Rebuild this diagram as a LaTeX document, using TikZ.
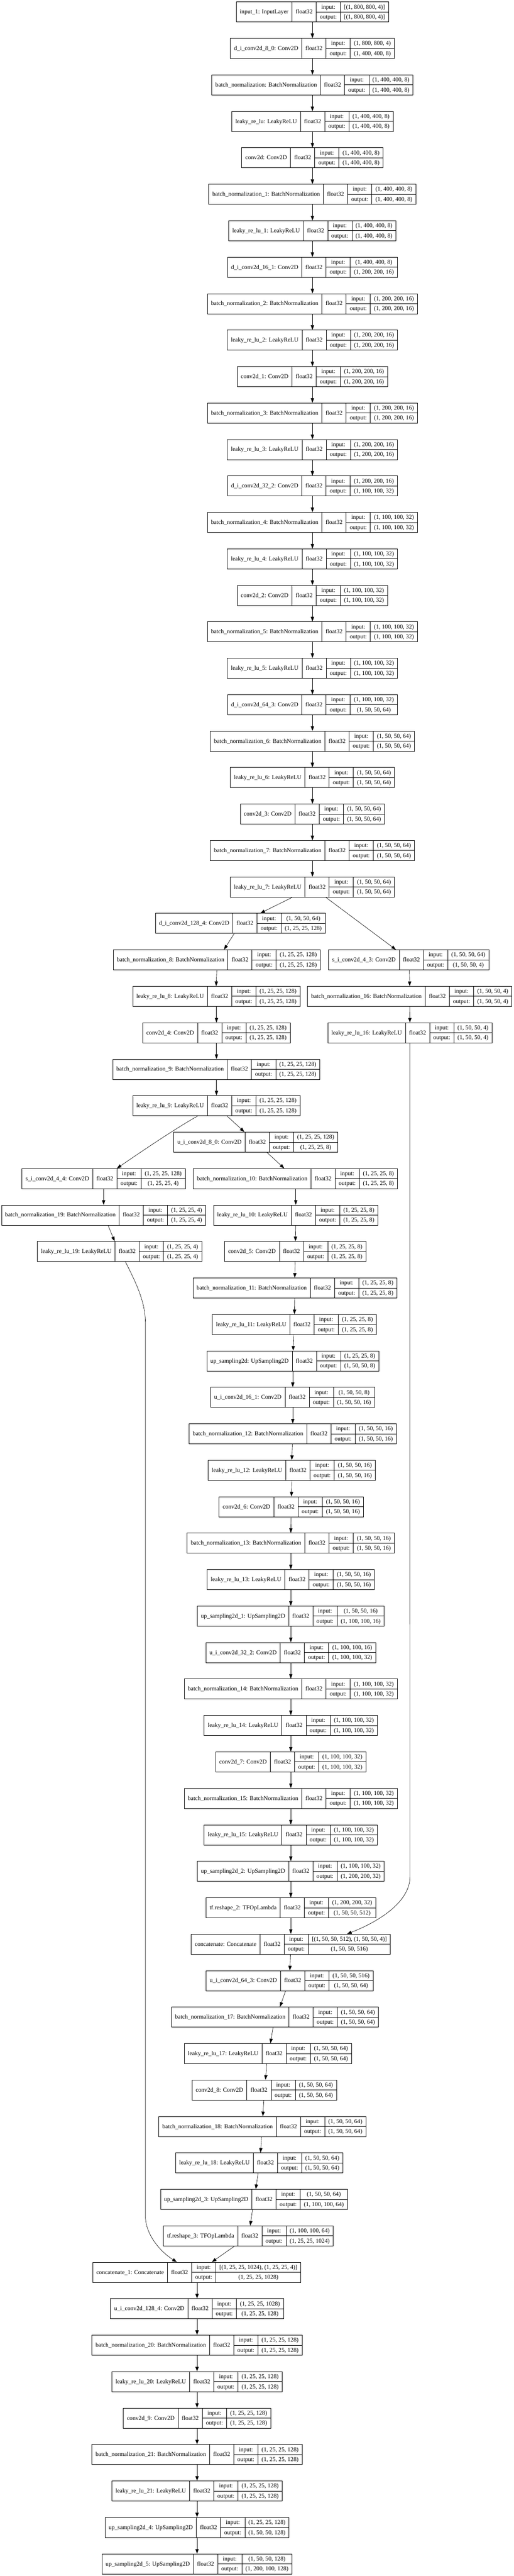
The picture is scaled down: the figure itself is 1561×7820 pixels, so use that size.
\documentclass[tikz,border=0pt]{standalone}
\usepackage{fontspec}
\setmainfont{Liberation Serif}
\usetikzlibrary{arrows.meta}
\newlength\lwA \newlength\lwB \newlength\lwC \newlength\lwD \newlength\lwT
\newcommand\lfont{\fontsize{18.2}{21}\selectfont}
\tikzset{
  box/.style={rectangle, draw=black, line width=1.3pt, minimum height=61pt, inner sep=0pt},
  cellline/.style={draw=black, line width=1.3pt},
  txt/.style={inner sep=0pt, font=\lfont, text height=14pt, text depth=3pt},
  conn/.style={draw=black, line width=1pt, -{Triangle[length=14pt,width=10pt]}}
}
% id, level, centre x, label, input shape, output shape
\newcommand\klayer[6]{%
  \pgfinterruptpicture
  \settowidth\lwA{\lfont #4}\addtolength\lwA{22pt}\global\lwA=\lwA
  \settowidth\lwB{\lfont float32}\addtolength\lwB{22pt}\global\lwB=\lwB
  \settowidth\lwC{\lfont output:}\addtolength\lwC{22pt}\global\lwC=\lwC
  \settowidth\lwD{\lfont #5}\settowidth\lwT{\lfont #6}%
  \ifdim\lwT>\lwD\relax\setlength\lwD{\lwT}\fi\addtolength\lwD{22pt}\global\lwD=\lwD
  \endpgfinterruptpicture
  \pgfmathsetmacro\Ltop{6+110.67*#2}%
  \pgfmathsetmacro\Lmid{\Ltop+30.5}%
  \pgfmathsetmacro\Lbot{\Ltop+61}%
  \pgfmathsetmacro\Lin{\Ltop+15.25}%
  \pgfmathsetmacro\Lout{\Ltop+45.75}%
  \pgfmathsetmacro\Lw{\lwA+\lwB+\lwC+\lwD}%
  \pgfmathsetmacro\Lxl{#3-\Lw/2}%
  \pgfmathsetmacro\Lxa{\Lxl+\lwA}%
  \pgfmathsetmacro\Lxb{\Lxa+\lwB}%
  \pgfmathsetmacro\Lxc{\Lxb+\lwC}%
  \pgfmathsetmacro\Lxr{#3+\Lw/2}%
  \node[box, minimum width=\Lw pt] (#1) at (#3,\Lmid) {};
  \draw[cellline] (\Lxa,\Ltop) -- (\Lxa,\Lbot) (\Lxb,\Ltop) -- (\Lxb,\Lbot)
    (\Lxc,\Ltop) -- (\Lxc,\Lbot) (\Lxb,\Lmid) -- (\Lxr,\Lmid);
  \node[txt] (#1-n) at ({(\Lxl+\Lxa)/2},\Lmid) {#4};
  \node[txt] (#1-t) at ({(\Lxa+\Lxb)/2},\Lmid) {float32};
  \node[txt] (#1-i) at ({(\Lxb+\Lxc)/2},\Lin) {input:};
  \node[txt] (#1-o) at ({(\Lxb+\Lxc)/2},\Lout) {output:};
  \node[txt] (#1-si) at ({(\Lxc+\Lxr)/2},\Lin) {#5};
  \node[txt] (#1-so) at ({(\Lxc+\Lxr)/2},\Lout) {#6};
}
\newcommand\conn[4]{\draw[conn] ([xshift=#2pt]#1.south) -- ([xshift=#4pt]#3.north);}
\begin{document}
\begin{tikzpicture}[x=1pt,y=-1pt]
\fill[white] (0,0) rectangle (1561,7820);
\useasboundingbox (0,0) rectangle (1561,7820);
% main column
\klayer{inp}{0}{949.7}{input\_1: InputLayer}{[(1, 800, 800, 4)]}{[(1, 800, 800, 4)]}
\klayer{dc80}{1}{949.7}{d\_i\_conv2d\_8\_0: Conv2D}{(1, 800, 800, 4)}{(1, 400, 400, 8)}
\klayer{bn0}{2}{949.7}{batch\_normalization: BatchNormalization}{(1, 400, 400, 8)}{(1, 400, 400, 8)}
\klayer{lr0}{3}{949.7}{leaky\_re\_lu: LeakyReLU}{(1, 400, 400, 8)}{(1, 400, 400, 8)}
\klayer{cv0}{4}{949.7}{conv2d: Conv2D}{(1, 400, 400, 8)}{(1, 400, 400, 8)}
\klayer{bn1}{5}{949.7}{batch\_normalization\_1: BatchNormalization}{(1, 400, 400, 8)}{(1, 400, 400, 8)}
\klayer{lr1}{6}{949.7}{leaky\_re\_lu\_1: LeakyReLU}{(1, 400, 400, 8)}{(1, 400, 400, 8)}
\klayer{dc161}{7}{949.7}{d\_i\_conv2d\_16\_1: Conv2D}{(1, 400, 400, 8)}{(1, 200, 200, 16)}
\klayer{bn2}{8}{949.7}{batch\_normalization\_2: BatchNormalization}{(1, 200, 200, 16)}{(1, 200, 200, 16)}
\klayer{lr2}{9}{949.7}{leaky\_re\_lu\_2: LeakyReLU}{(1, 200, 200, 16)}{(1, 200, 200, 16)}
\klayer{cv1}{10}{949.7}{conv2d\_1: Conv2D}{(1, 200, 200, 16)}{(1, 200, 200, 16)}
\klayer{bn3}{11}{949.7}{batch\_normalization\_3: BatchNormalization}{(1, 200, 200, 16)}{(1, 200, 200, 16)}
\klayer{lr3}{12}{949.7}{leaky\_re\_lu\_3: LeakyReLU}{(1, 200, 200, 16)}{(1, 200, 200, 16)}
\klayer{dc322}{13}{949.7}{d\_i\_conv2d\_32\_2: Conv2D}{(1, 200, 200, 16)}{(1, 100, 100, 32)}
\klayer{bn4}{14}{949.7}{batch\_normalization\_4: BatchNormalization}{(1, 100, 100, 32)}{(1, 100, 100, 32)}
\klayer{lr4}{15}{949.7}{leaky\_re\_lu\_4: LeakyReLU}{(1, 100, 100, 32)}{(1, 100, 100, 32)}
\klayer{cv2}{16}{949.7}{conv2d\_2: Conv2D}{(1, 100, 100, 32)}{(1, 100, 100, 32)}
\klayer{bn5}{17}{949.7}{batch\_normalization\_5: BatchNormalization}{(1, 100, 100, 32)}{(1, 100, 100, 32)}
\klayer{lr5}{18}{949.7}{leaky\_re\_lu\_5: LeakyReLU}{(1, 100, 100, 32)}{(1, 100, 100, 32)}
\klayer{dc643}{19}{949.7}{d\_i\_conv2d\_64\_3: Conv2D}{(1, 100, 100, 32)}{(1, 50, 50, 64)}
\klayer{bn6}{20}{949.7}{batch\_normalization\_6: BatchNormalization}{(1, 50, 50, 64)}{(1, 50, 50, 64)}
\klayer{lr6}{21}{949.7}{leaky\_re\_lu\_6: LeakyReLU}{(1, 50, 50, 64)}{(1, 50, 50, 64)}
\klayer{cv3}{22}{949.7}{conv2d\_3: Conv2D}{(1, 50, 50, 64)}{(1, 50, 50, 64)}
\klayer{bn7}{23}{949.7}{batch\_normalization\_7: BatchNormalization}{(1, 50, 50, 64)}{(1, 50, 50, 64)}
\klayer{lr7}{24}{949.7}{leaky\_re\_lu\_7: LeakyReLU}{(1, 50, 50, 64)}{(1, 50, 50, 64)}
% branches
\klayer{dc1284}{25}{730.7}{d\_i\_conv2d\_128\_4: Conv2D}{(1, 50, 50, 64)}{(1, 25, 25, 128)}
\klayer{bn8}{26}{659}{batch\_normalization\_8: BatchNormalization}{(1, 25, 25, 128)}{(1, 25, 25, 128)}
\klayer{sc43}{26}{1242.4}{s\_i\_conv2d\_4\_3: Conv2D}{(1, 50, 50, 64)}{(1, 50, 50, 4)}
\klayer{lr8}{27}{658}{leaky\_re\_lu\_8: LeakyReLU}{(1, 25, 25, 128)}{(1, 25, 25, 128)}
\klayer{bn16}{27}{1245.4}{batch\_normalization\_16: BatchNormalization}{(1, 50, 50, 4)}{(1, 50, 50, 4)}
\klayer{cv4}{28}{658}{conv2d\_4: Conv2D}{(1, 25, 25, 128)}{(1, 25, 25, 128)}
\klayer{lr16}{28}{1246}{leaky\_re\_lu\_16: LeakyReLU}{(1, 50, 50, 4)}{(1, 50, 50, 4)}
\klayer{bn9}{29}{657.5}{batch\_normalization\_9: BatchNormalization}{(1, 25, 25, 128)}{(1, 25, 25, 128)}
\klayer{lr9}{30}{658}{leaky\_re\_lu\_9: LeakyReLU}{(1, 25, 25, 128)}{(1, 25, 25, 128)}
\klayer{uc80}{31}{777.5}{u\_i\_conv2d\_8\_0: Conv2D}{(1, 25, 25, 128)}{(1, 25, 25, 8)}
\klayer{sc44}{32}{315}{s\_i\_conv2d\_4\_4: Conv2D}{(1, 25, 25, 128)}{(1, 25, 25, 4)}
\klayer{bn10}{32}{898}{batch\_normalization\_10: BatchNormalization}{(1, 25, 25, 8)}{(1, 25, 25, 8)}
\klayer{bn19}{33}{315}{batch\_normalization\_19: BatchNormalization}{(1, 25, 25, 4)}{(1, 25, 25, 4)}
\klayer{lr10}{33}{899}{leaky\_re\_lu\_10: LeakyReLU}{(1, 25, 25, 8)}{(1, 25, 25, 8)}
\klayer{lr19}{34}{363.4}{leaky\_re\_lu\_19: LeakyReLU}{(1, 25, 25, 4)}{(1, 25, 25, 4)}
\klayer{cv5}{34}{897.5}{conv2d\_5: Conv2D}{(1, 25, 25, 8)}{(1, 25, 25, 8)}
\klayer{bn11}{35}{896.5}{batch\_normalization\_11: BatchNormalization}{(1, 25, 25, 8)}{(1, 25, 25, 8)}
\klayer{lr11}{36}{895}{leaky\_re\_lu\_11: LeakyReLU}{(1, 25, 25, 8)}{(1, 25, 25, 8)}
\klayer{up0}{37}{890}{up\_sampling2d: UpSampling2D}{(1, 25, 25, 8)}{(1, 50, 50, 8)}
\klayer{uc161}{38}{889.5}{u\_i\_conv2d\_16\_1: Conv2D}{(1, 50, 50, 8)}{(1, 50, 50, 16)}
\klayer{bn12}{39}{890}{batch\_normalization\_12: BatchNormalization}{(1, 50, 50, 16)}{(1, 50, 50, 16)}
\klayer{lr12}{40}{887}{leaky\_re\_lu\_12: LeakyReLU}{(1, 50, 50, 16)}{(1, 50, 50, 16)}
\klayer{cv6}{41}{885.5}{conv2d\_6: Conv2D}{(1, 50, 50, 16)}{(1, 50, 50, 16)}
\klayer{bn13}{42}{884}{batch\_normalization\_13: BatchNormalization}{(1, 50, 50, 16)}{(1, 50, 50, 16)}
\klayer{lr13}{43}{884}{leaky\_re\_lu\_13: LeakyReLU}{(1, 50, 50, 16)}{(1, 50, 50, 16)}
\klayer{up1}{44}{884}{up\_sampling2d\_1: UpSampling2D}{(1, 50, 50, 16)}{(1, 100, 100, 16)}
\klayer{uc322}{45}{884}{u\_i\_conv2d\_32\_2: Conv2D}{(1, 100, 100, 16)}{(1, 100, 100, 32)}
\klayer{bn14}{46}{884}{batch\_normalization\_14: BatchNormalization}{(1, 100, 100, 32)}{(1, 100, 100, 32)}
\klayer{lr14}{47}{884}{leaky\_re\_lu\_14: LeakyReLU}{(1, 100, 100, 32)}{(1, 100, 100, 32)}
\klayer{cv7}{48}{884}{conv2d\_7: Conv2D}{(1, 100, 100, 32)}{(1, 100, 100, 32)}
\klayer{bn15}{49}{884}{batch\_normalization\_15: BatchNormalization}{(1, 100, 100, 32)}{(1, 100, 100, 32)}
\klayer{lr15}{50}{884}{leaky\_re\_lu\_15: LeakyReLU}{(1, 100, 100, 32)}{(1, 100, 100, 32)}
\klayer{up2}{51}{884}{up\_sampling2d\_2: UpSampling2D}{(1, 100, 100, 32)}{(1, 200, 200, 32)}
\klayer{tf2}{52}{884}{tf.reshape\_2: TFOpLambda}{(1, 200, 200, 32)}{(1, 50, 50, 512)}
\klayer{cat0}{53}{884}{concatenate: Concatenate}{[(1, 50, 50, 512), (1, 50, 50, 4)]}{(1, 50, 50, 516)}
\klayer{uc643}{54}{880.5}{u\_i\_conv2d\_64\_3: Conv2D}{(1, 50, 50, 516)}{(1, 50, 50, 64)}
\klayer{bn17}{55}{835.7}{batch\_normalization\_17: BatchNormalization}{(1, 50, 50, 64)}{(1, 50, 50, 64)}
\klayer{lr17}{56}{814.3}{leaky\_re\_lu\_17: LeakyReLU}{(1, 50, 50, 64)}{(1, 50, 50, 64)}
\klayer{cv8}{57}{803.4}{conv2d\_8: Conv2D}{(1, 50, 50, 64)}{(1, 50, 50, 64)}
\klayer{bn18}{58}{797.4}{batch\_normalization\_18: BatchNormalization}{(1, 50, 50, 64)}{(1, 50, 50, 64)}
\klayer{lr18}{59}{788}{leaky\_re\_lu\_18: LeakyReLU}{(1, 50, 50, 64)}{(1, 50, 50, 64)}
\klayer{up3}{60}{772}{up\_sampling2d\_3: UpSampling2D}{(1, 50, 50, 64)}{(1, 100, 100, 64)}
\klayer{tf3}{61}{755}{tf.reshape\_3: TFOpLambda}{(1, 100, 100, 64)}{(1, 25, 25, 1024)}
\klayer{cat1}{62}{598.3}{concatenate\_1: Concatenate}{[(1, 25, 25, 1024), (1, 25, 25, 4)]}{(1, 25, 25, 1028)}
\klayer{uc1284}{63}{599}{u\_i\_conv2d\_128\_4: Conv2D}{(1, 25, 25, 1028)}{(1, 25, 25, 128)}
\klayer{bn20}{64}{599}{batch\_normalization\_20: BatchNormalization}{(1, 25, 25, 128)}{(1, 25, 25, 128)}
\klayer{lr20}{65}{599}{leaky\_re\_lu\_20: LeakyReLU}{(1, 25, 25, 128)}{(1, 25, 25, 128)}
\klayer{cv9}{66}{599}{conv2d\_9: Conv2D}{(1, 25, 25, 128)}{(1, 25, 25, 128)}
\klayer{bn21}{67}{599}{batch\_normalization\_21: BatchNormalization}{(1, 25, 25, 128)}{(1, 25, 25, 128)}
\klayer{lr21}{68}{599}{leaky\_re\_lu\_21: LeakyReLU}{(1, 25, 25, 128)}{(1, 25, 25, 128)}
\klayer{up4}{69}{599}{up\_sampling2d\_4: UpSampling2D}{(1, 25, 25, 128)}{(1, 50, 50, 128)}
\klayer{up5}{70}{599}{up\_sampling2d\_5: UpSampling2D}{(1, 50, 50, 128)}{(1, 200, 100, 128)}
% connectors: main column
\conn{inp}{0}{dc80}{0}
\conn{dc80}{0}{bn0}{0}
\conn{bn0}{0}{lr0}{0}
\conn{lr0}{0}{cv0}{0}
\conn{cv0}{0}{bn1}{0}
\conn{bn1}{0}{lr1}{0}
\conn{lr1}{0}{dc161}{0}
\conn{dc161}{0}{bn2}{0}
\conn{bn2}{0}{lr2}{0}
\conn{lr2}{0}{cv1}{0}
\conn{cv1}{0}{bn3}{0}
\conn{bn3}{0}{lr3}{0}
\conn{lr3}{0}{dc322}{0}
\conn{dc322}{0}{bn4}{0}
\conn{bn4}{0}{lr4}{0}
\conn{lr4}{0}{cv2}{0}
\conn{cv2}{0}{bn5}{0}
\conn{bn5}{0}{lr5}{0}
\conn{lr5}{0}{dc643}{0}
\conn{dc643}{0}{bn6}{0}
\conn{bn6}{0}{lr6}{0}
\conn{lr6}{0}{cv3}{0}
\conn{cv3}{0}{bn7}{0}
\conn{bn7}{0}{lr7}{0}
% first split
\conn{lr7}{-60.7}{dc1284}{60.7}
\conn{lr7}{40.3}{sc43}{-39.1}
\conn{dc1284}{-18.9}{bn8}{22}
\conn{bn8}{0}{lr8}{-1}
\conn{lr8}{0}{cv4}{0}
\conn{cv4}{0}{bn9}{0.5}
\conn{bn9}{0.5}{lr9}{0}
\conn{sc43}{2}{bn16}{0}
\conn{bn16}{0}{lr16}{0}
% second split
\conn{lr9}{32}{uc80}{-34.8}
\draw[conn] ([xshift=-56.7pt]lr9.south) .. controls +(-60,33) and +(80,-55) .. ([xshift=40.4pt]sc44.north);
\conn{uc80}{33.9}{bn10}{-34}
\conn{sc44}{0}{bn19}{0}
\conn{bn19}{13.5}{lr19}{-15}
\conn{bn10}{1}{lr10}{0}
\conn{lr10}{0}{cv5}{0.5}
\conn{cv5}{-0.5}{bn11}{-0.5}
\conn{bn11}{-0.5}{lr11}{0}
\conn{lr11}{-2}{up0}{1}
\conn{up0}{0}{uc161}{0.5}
\conn{uc161}{0.5}{bn12}{0}
\conn{bn12}{-1}{lr12}{0}
\conn{lr12}{0}{cv6}{0.5}
\conn{cv6}{-0.5}{bn13}{0}
\conn{bn13}{0}{lr13}{0}
\conn{lr13}{0}{up1}{0}
\conn{up1}{0}{uc322}{0}
\conn{uc322}{0}{bn14}{0}
\conn{bn14}{0}{lr14}{0}
\conn{lr14}{0}{cv7}{0}
\conn{cv7}{0}{bn15}{0}
\conn{bn15}{0}{lr15}{0}
\conn{lr15}{0}{up2}{0}
\conn{up2}{0}{tf2}{0}
\conn{tf2}{0}{cat0}{0}
% skip from lr16 to concatenate
\coordinate (k16) at (1246.3,5697);
\draw[conn] (lr16.south) -- (k16) .. controls +(0,73) and +(105,-41) .. ([xshift=171pt]cat0.north);
\conn{cat0}{-1}{uc643}{0.5}
\conn{uc643}{-12.5}{bn17}{15.3}
\conn{bn17}{-5.7}{lr17}{7.7}
\conn{lr17}{-3.3}{cv8}{3.6}
\conn{cv8}{-1.4}{bn18}{1.6}
\conn{bn18}{-2.4}{lr18}{4}
\conn{lr18}{-3.5}{up3}{5.5}
\conn{up3}{-4.4}{tf3}{5.6}
\conn{tf3}{-42.2}{cat1}{45.7}
% skip from lr19 to concatenate_1
\coordinate (k19a) at (442,4016);
\coordinate (k19b) at (442,6727);
\draw[conn] ([xshift=17.9pt]lr19.south) .. controls +(30,60) and +(0,-66) .. (k19a) -- (k19b) .. controls +(0,58) and +(-48,-30) .. ([xshift=-60.7pt]cat1.north);
\conn{cat1}{0.7}{uc1284}{0}
\conn{uc1284}{0}{bn20}{0}
\conn{bn20}{0}{lr20}{0}
\conn{lr20}{0}{cv9}{0}
\conn{cv9}{0}{bn21}{0}
\conn{bn21}{0}{lr21}{0}
\conn{lr21}{0}{up4}{0}
\conn{up4}{0}{up5}{0}
\end{tikzpicture}
\end{document}
